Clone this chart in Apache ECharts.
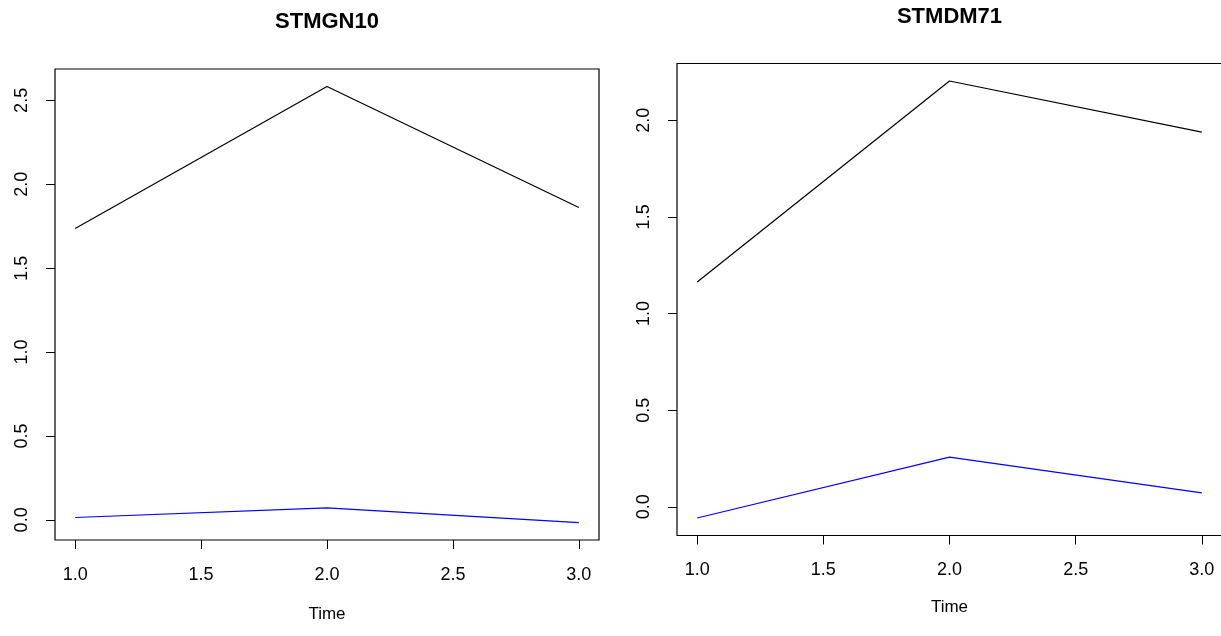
<!DOCTYPE html>
<html>
<head>
<meta charset="utf-8">
<script src="https://cdn.jsdelivr.net/npm/echarts@6/dist/echarts.min.js"></script>
<style>
  html, body { margin: 0; padding: 0; background: #fff; }
  #chart { width: 1221px; height: 636px; }
</style>
</head>
<body>
<div id="chart"></div>
<script>
// values
const time = [1, 2, 3];
const gnBlack = [1.736, 2.583, 1.862];
const gnBlue = [0.014, 0.072, -0.016];
const dmBlack = [1.163, 2.203, 1.938];
const dmBlue = [-0.058, 0.257, 0.072];

const xTicks = [1, 1.5, 2, 2.5, 3];
const gnTicks = [0, 0.5, 1, 1.5, 2, 2.5];
const dmTicks = [0, 0.5, 1, 1.5, 2];

const titles = ['STMGN10', 'STMDM71'];

// R style: extend data range by 4% on each side
function rRange(arrs) {
    const all = [].concat(...arrs);
    const lo = Math.min(...all), hi = Math.max(...all);
    const pad = (hi - lo) * 0.04;
    return [lo - pad, hi + pad];
}

const font = 'Liberation Sans, Arial, sans-serif';
const gnY = rRange([gnBlack, gnBlue]);
const dmY = rRange([dmBlack, dmBlue]);
const xR = rRange([time]);

// right panel's box runs past the right edge of the picture:
// widen it and stretch the x range by the same ratio so the scale holds
const boxW = 545, extW = 550;
const xR2 = [xR[0], xR[0] + (xR[1] - xR[0]) * extW / boxW];

const grids = [
    {left: 55, top: 69, width: 544, height: 471},
    {left: 677, top: 63.5, width: extW, height: 472}
];

function xAxis(idx, range, name) {
    return {
        type: 'value', gridIndex: idx, min: range[0], max: range[1],
        name: name, nameLocation: 'middle', nameGap: 66,
        nameTextStyle: {fontFamily: font, fontSize: 17, color: '#000'},
        axisLine: {show: false, onZero: false},
        splitLine: {show: false},
        axisTick: {show: true, inside: false, length: 9, customValues: xTicks,
            lineStyle: {color: '#000'}},
        axisLabel: {customValues: xTicks, margin: 26, fontFamily: font, fontSize: 18, color: '#000',
            formatter: v => v.toFixed(1)}
    };
}

function yAxis(idx, range, ticks) {
    return {
        type: 'value', gridIndex: idx, min: range[0], max: range[1],
        axisLine: {show: false, onZero: false},
        splitLine: {show: false},
        axisTick: {show: true, inside: false, length: 9, customValues: ticks,
            lineStyle: {color: '#000'}},
        axisLabel: {customValues: ticks, rotate: 90, align: 'center', verticalAlign: 'bottom',
            margin: 24, fontFamily: font, fontSize: 18, color: '#000',
            formatter: v => v.toFixed(1)}
    };
}

function line(idx, vals, color) {
    return {
        type: 'line', xAxisIndex: idx, yAxisIndex: idx,
        data: time.map((t, i) => [t, vals[i]]),
        showSymbol: false, animation: false,
        lineStyle: {color: color, width: 1.2}
    };
}

const chart = echarts.init(document.getElementById('chart'));

chart.setOption({
    backgroundColor: '#fff',
    animation: false,
    title: [
        {text: titles[0], left: 327, top: 11, textAlign: 'center', padding: 0,
            textStyle: {fontFamily: font, fontSize: 22, fontWeight: 'bold', color: '#000'}},
        {text: titles[1], left: 949.5, top: 6, textAlign: 'center', padding: 0,
            textStyle: {fontFamily: font, fontSize: 22, fontWeight: 'bold', color: '#000'}},
        // right "Time" centred under the visible part of the box
        {text: 'Time', left: 949.5, top: 599, textAlign: 'center', padding: 0,
            textStyle: {fontFamily: font, fontSize: 17, fontWeight: 'normal', color: '#000'}}
    ],
    grid: grids.map(g => Object.assign({show: true, borderColor: '#000', borderWidth: 1.2,
        backgroundColor: 'transparent', outerBoundsMode: 'none', containLabel: false}, g)),
    xAxis: [xAxis(0, xR, 'Time'), xAxis(1, xR2, '')],
    yAxis: [yAxis(0, gnY, gnTicks), yAxis(1, dmY, dmTicks)],
    series: [
        line(0, gnBlack, '#000'),
        line(0, gnBlue, '#0000ff'),
        line(1, dmBlack, '#000'),
        line(1, dmBlue, '#0000ff')
    ]
});
</script>
</body>
</html>
